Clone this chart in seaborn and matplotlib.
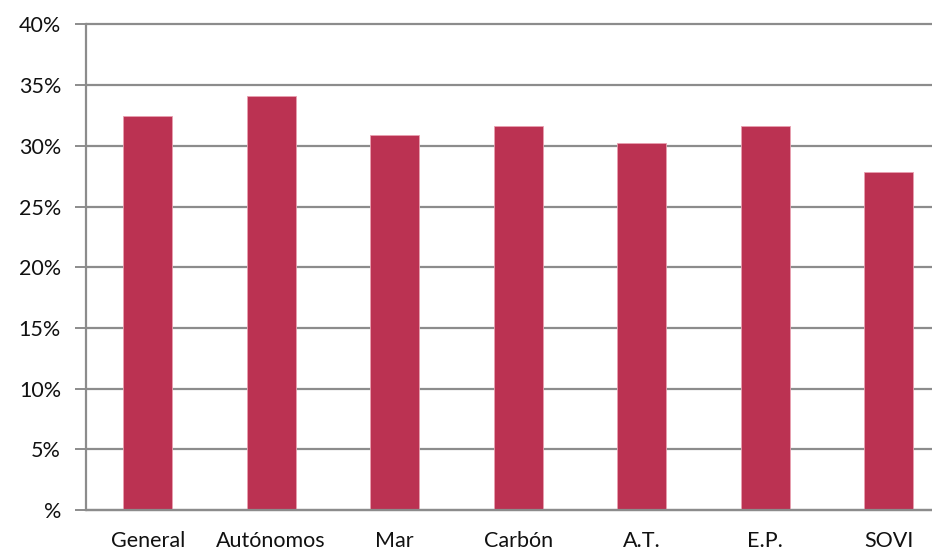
import matplotlib.pyplot as plt
import numpy as np
import pandas as pd
import seaborn as sns

CATEGORIES = ["General", "Autónomos", "Mar", "Carbón", "A.T.", "E.P.", "SOVI"]
VALUES = [32.5, 34.1, 30.9, 31.65, 30.2, 31.65, 27.85]
Y_TICKS = [0, 5, 10, 15, 20, 25, 30, 35, 40]
Y_LABELS = ["%", "5%", "10%", "15%", "20%", "25%", "30%", "35%", "40%"]

BAR_COLOR = "#BB3252"
GRID_COLOR = "#8C8C8C"


def main() -> None:
    sns.set_theme(style="white")
    plt.rcParams["font.family"] = ["Lato", "DejaVu Sans"]

    df = pd.DataFrame({"category": CATEGORIES, "value": VALUES})

    fig = plt.figure(figsize=(9.32, 5.53), dpi=100)
    ax = fig.add_axes([86 / 932, 43 / 553, 864.5 / 932, 485.5 / 553])

    sns.barplot(
        data=df,
        x="category",
        y="value",
        order=CATEGORIES,
        color=BAR_COLOR,
        saturation=1,
        width=0.4,
        edgecolor="#E8A0B0",
        linewidth=0.6,
        ax=ax,
    )

    ax.set_xlim(-0.5, len(CATEGORIES) - 0.5)
    ax.set_ylim(0, 40)
    ax.set_yticks(Y_TICKS)
    ax.set_yticklabels(Y_LABELS, fontsize=15.5, color="#111111")
    ax.set_xticks(range(len(CATEGORIES)))
    ax.set_xticklabels(CATEGORIES, fontsize=15.5, color="#111111")
    ax.set_xticks(np.arange(-0.5, len(CATEGORIES)), minor=True)
    ax.set_xlabel("")
    ax.set_ylabel("")

    ax.set_axisbelow(True)
    ax.yaxis.grid(True, color=GRID_COLOR, linewidth=1.6)
    ax.xaxis.grid(False)
    for line in ax.get_ygridlines():
        line.set_clip_on(False)

    ax.tick_params(axis="x", which="major", length=0, pad=15)
    ax.tick_params(axis="x", which="minor", length=6, width=1.4, color=GRID_COLOR, direction="out")
    ax.tick_params(axis="y", length=8, width=1.4, color=GRID_COLOR, direction="out", pad=10, left=True)

    for side in ["top", "right"]:
        ax.spines[side].set_visible(False)
    for side in ["left", "bottom"]:
        ax.spines[side].set_color(GRID_COLOR)
        ax.spines[side].set_linewidth(1.6)

    fig.savefig("out.png", dpi=100)
    plt.close(fig)


if __name__ == "__main__":
    main()
